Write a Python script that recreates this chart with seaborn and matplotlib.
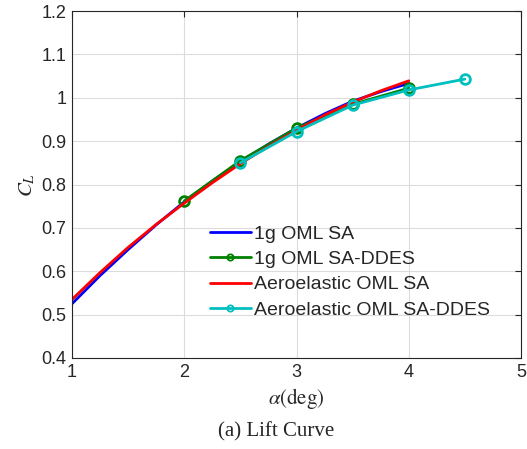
import matplotlib
matplotlib.use("Agg")
import matplotlib.pyplot as plt
import seaborn as sns
import pandas as pd

# Data
alpha_sa = [1.0, 1.25, 1.5, 1.75, 2.0, 2.25, 2.5, 2.75, 3.0, 3.25, 3.5, 3.75, 4.0]
cl_1g_sa = [0.525, 0.590, 0.650, 0.707, 0.760, 0.808, 0.852, 0.893, 0.930, 0.963, 0.992, 1.014, 1.033]
cl_ae_sa = [0.535, 0.597, 0.655, 0.708, 0.757, 0.804, 0.848, 0.888, 0.925, 0.960, 0.990, 1.016, 1.039]

alpha_1g_ddes = [2.0, 2.5, 3.0, 3.5, 4.0]
cl_1g_ddes = [0.762, 0.855, 0.930, 0.985, 1.022]

alpha_ae_ddes = [2.5, 3.0, 3.5, 4.0, 4.5]
cl_ae_ddes = [0.850, 0.922, 0.983, 1.018, 1.043]

labels = ["1g OML SA", "1g OML SA-DDES", "Aeroelastic OML SA", "Aeroelastic OML SA-DDES"]
colors = ["#0000ff", "#008000", "#ff0000", "#00bfbf"]

df = pd.concat([
    pd.DataFrame({"alpha": alpha_sa, "CL": cl_1g_sa, "case": labels[0]}),
    pd.DataFrame({"alpha": alpha_1g_ddes, "CL": cl_1g_ddes, "case": labels[1]}),
    pd.DataFrame({"alpha": alpha_sa, "CL": cl_ae_sa, "case": labels[2]}),
    pd.DataFrame({"alpha": alpha_ae_ddes, "CL": cl_ae_ddes, "case": labels[3]}),
])

sns.set_style("white")
plt.rcParams["font.family"] = ["Liberation Sans", "DejaVu Sans"]
plt.rcParams["mathtext.fontset"] = "stix"

fig = plt.figure(figsize=(5.27, 4.49), dpi=100)
ax = fig.add_axes([72/527, 1 - 358/449, (521-72)/527, (358-11)/449])

markers = {labels[0]: "", labels[1]: "o", labels[2]: "", labels[3]: "o"}
for lab, col in zip(labels, colors):
    sub = df[df["case"] == lab]
    sns.lineplot(data=sub, x="alpha", y="CL", ax=ax, color=col, lw=2.0,
                 marker=markers[lab] if markers[lab] else None,
                 markersize=7, markerfacecolor="none", markeredgecolor=col,
                 markeredgewidth=2.0, label=lab, sort=False, estimator=None)

ax.set_xlim(1, 5)
ax.set_ylim(0.4, 1.2)
ax.set_xticks([1, 2, 3, 4, 5])
ax.set_yticks([0.4, 0.5, 0.6, 0.7, 0.8, 0.9, 1.0, 1.1, 1.2])
ax.set_yticklabels(["0.4", "0.5", "0.6", "0.7", "0.8", "0.9", "1", "1.1", "1.2"])
ax.tick_params(direction="in", top=True, right=True, labelsize=13, length=4, width=0.8,
               color="#262626", pad=4)
ax.grid(True, color="#dcdcdc", lw=0.8)
for s in ax.spines.values():
    s.set_color("#262626")
    s.set_linewidth(0.8)

ax.set_xlabel(r"$\alpha(\mathrm{deg})$", fontsize=15, labelpad=4)
ax.set_ylabel(r"$C_L$", fontsize=15, labelpad=3)

leg = ax.legend(loc="upper left", bbox_to_anchor=(0.307, 0.382), frameon=False, fontsize=14,
                handlelength=2.1, borderaxespad=0, labelspacing=0.39, handletextpad=0.15,
                borderpad=0)
for h in leg.legend_handles:
    h.set_markersize(4.5)
    h.set_markeredgewidth(1.3)
    h.set_markerfacecolor("none")

fig.text(276.5/527, 1 - 432/449, "(a) Lift Curve", ha="center", va="center",
         fontsize=15, family=["Liberation Serif", "DejaVu Serif"])

fig.savefig("out.png", dpi=100)
